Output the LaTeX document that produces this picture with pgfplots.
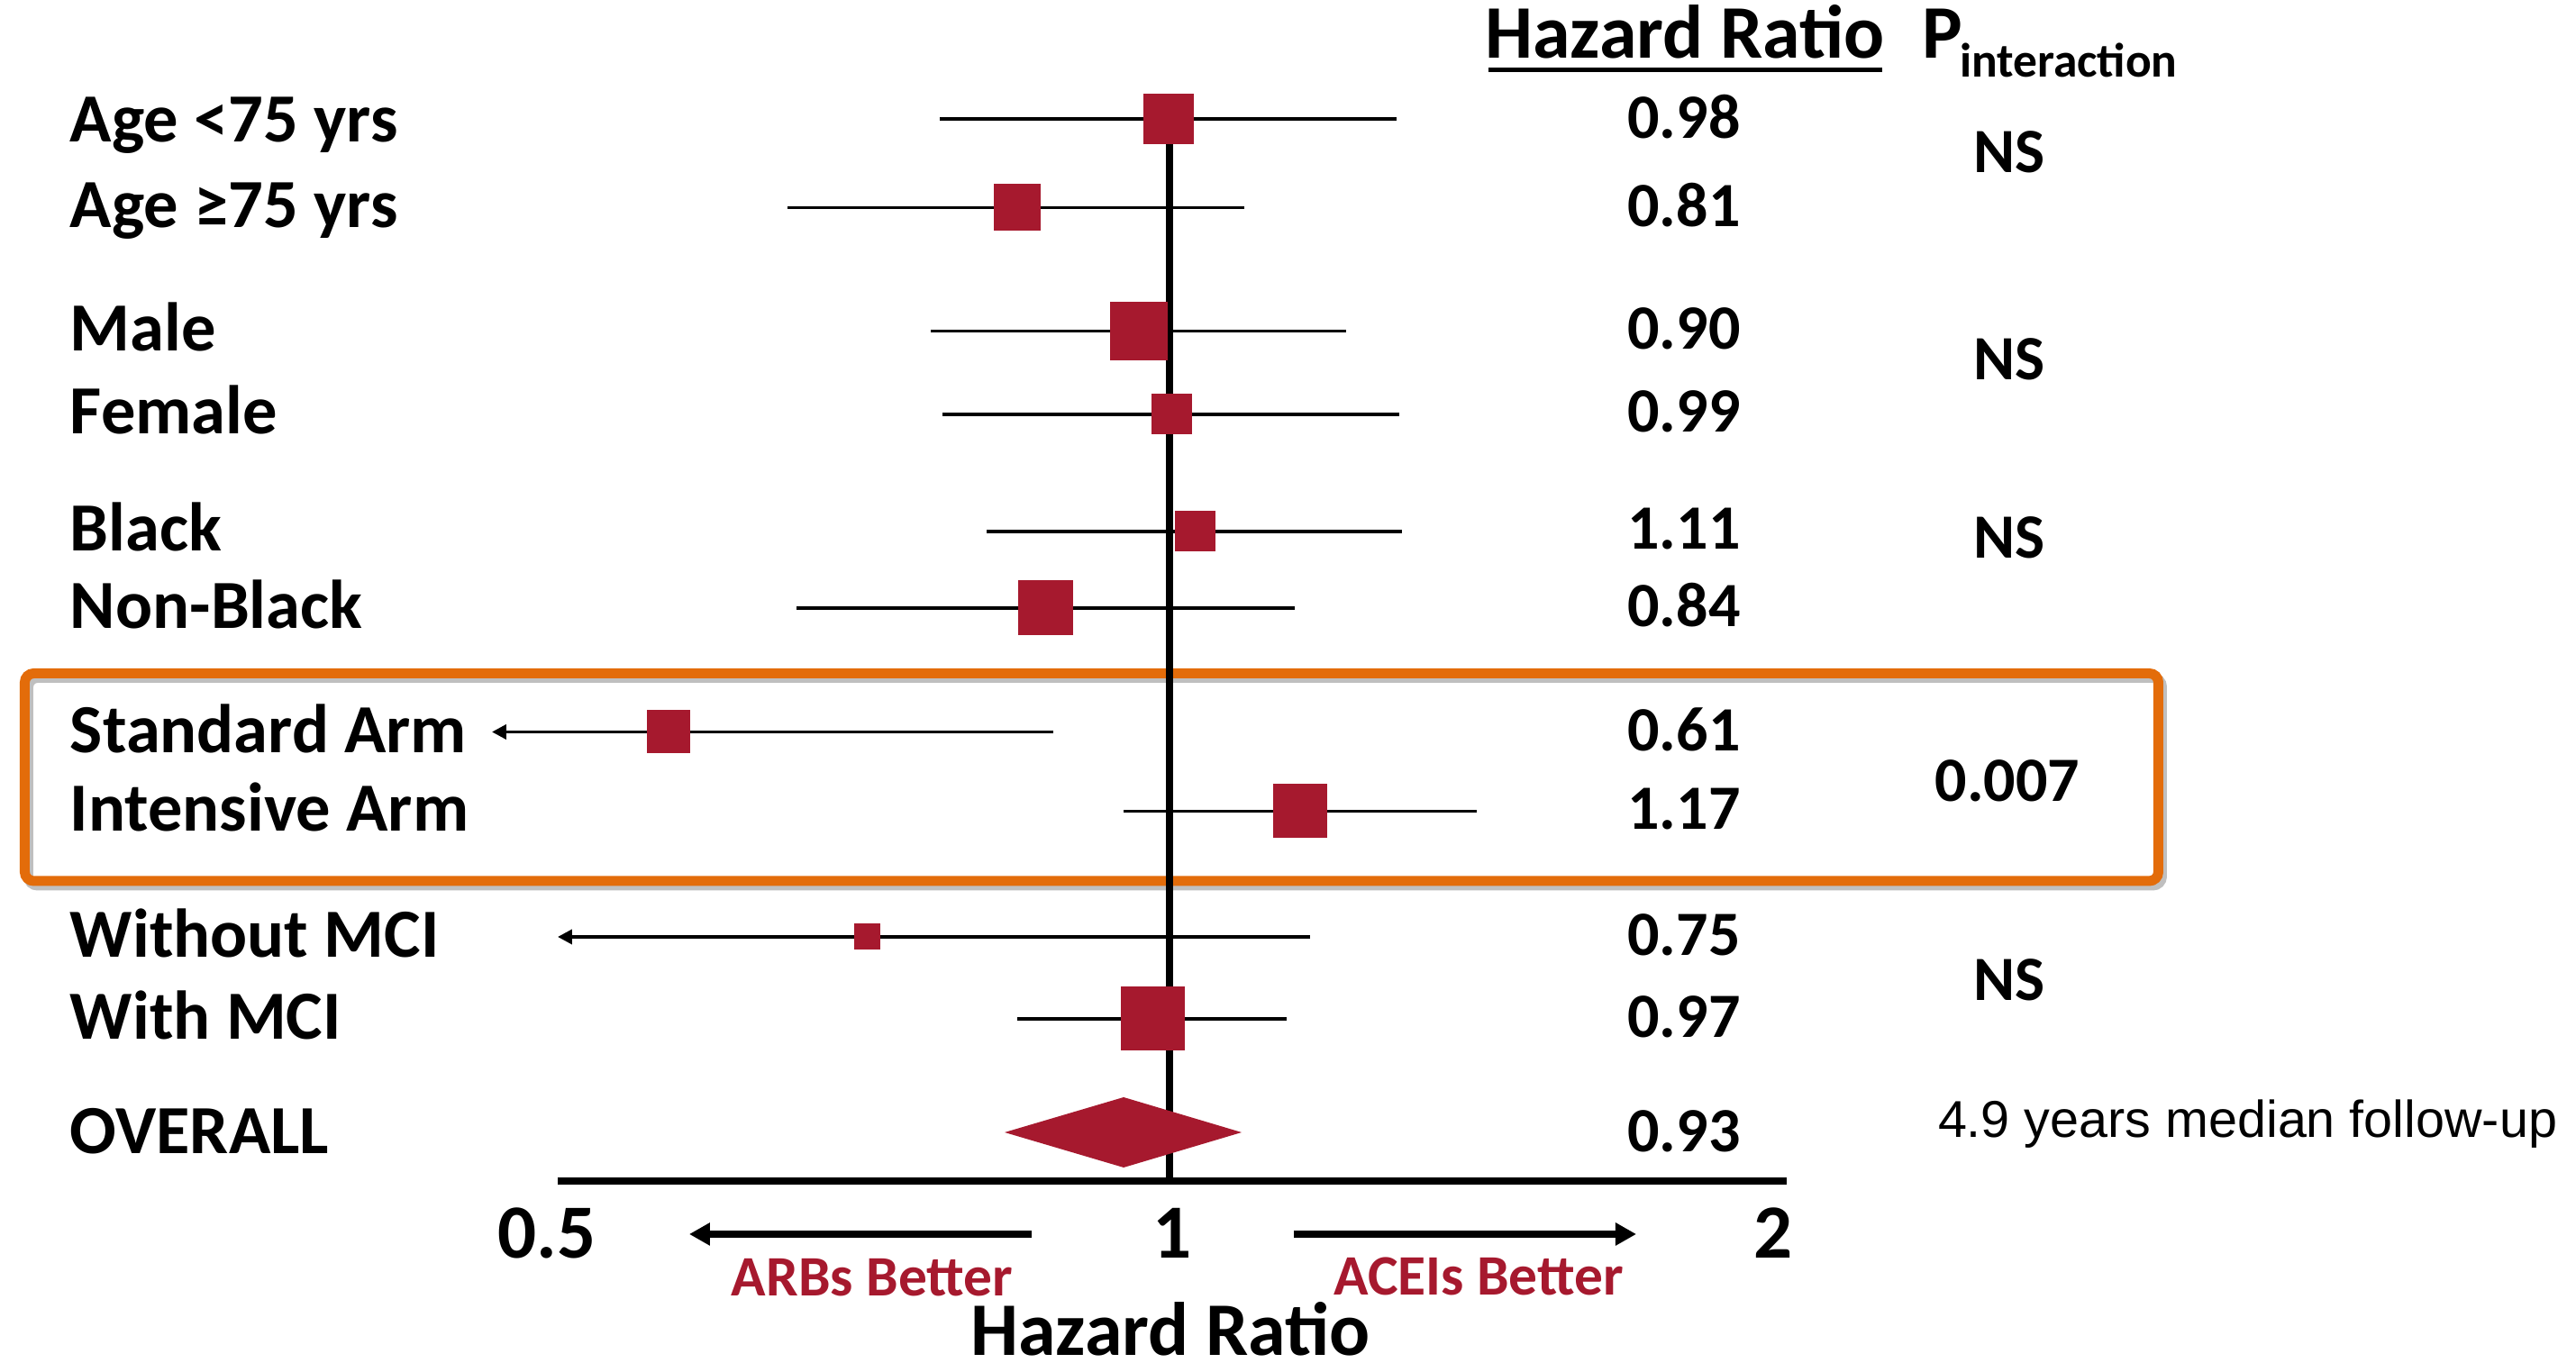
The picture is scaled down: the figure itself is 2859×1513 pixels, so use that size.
\documentclass[border=0pt]{standalone}
\usepackage{fontspec}
\setmainfont{Carlito}
\newfontfamily\arialfont{Liberation Sans}
\usepackage{pgfplots}
\pgfplotsset{compat=1.18}
\usetikzlibrary{arrows.meta}
\definecolor{boxred}{HTML}{A6192E}
\definecolor{orng}{HTML}{E36C0A}
\newcommand\lab{\fontsize{15.3}{16}\selectfont\bfseries}
\newcommand\num{\fontsize{14}{14}\selectfont\bfseries}
\newcommand\head{\fontsize{16.8}{17}\selectfont\bfseries}
\begin{document}
\begin{tikzpicture}
\begin{scope}[x=0.2pt,y=-0.2pt,shift={(-123.8pt,262.2pt)}]
\path[use as bounding box] (0,0) rectangle (2859,1513);
% orange highlight box with shadow
\draw[black!25, line width=2.2pt, rounded corners=2pt] (31.5,752.5) rectangle (2399.5,983);
\draw[orng, line width=2.2pt, rounded corners=2pt] (27.5,747.5) rectangle (2395.5,978);
\end{scope}
\begin{axis}[
  at={(0,0)}, anchor=south west,
  scale only axis, width=271.6pt, height=262.2pt,
  xmode=log, log basis x=2,
  xmin=0.5, xmax=2, ymin=-1311, ymax=0,
  clip=false,
  axis x line*=bottom, axis y line=none,
  x axis line style={line width=1.6pt, shorten >=-1.2pt},
  xtick={0.5,1,2}, xticklabels={\kern-4.8pt 0.5,\kern1.2pt 1,\kern-3.6pt 2},
  xminorticks=false, minor xtick={},
  major tick length=0pt,
  xticklabel style={font=\fontsize{17}{17}\selectfont\bfseries, anchor=base, yshift=-17.2pt, inner sep=0pt},
  ytick=\empty,
]
% reference line at HR = 1
\addplot[black, line width=1.6pt] coordinates {(1,-1311) (1,-110)};
% confidence intervals
\addplot[black, line width=0.75pt] coordinates {(0.7708,-132) (1.2933,-132)};
\addplot[black, line width=0.75pt] coordinates {(0.6487,-230.5) (1.0884,-230.5)};
\addplot[black, line width=0.75pt] coordinates {(0.7630,-367.5) (1.2215,-367.5)};
\addplot[black, line width=0.75pt] coordinates {(0.7732,-460) (1.2973,-460)};
\addplot[black, line width=0.75pt] coordinates {(0.8129,-590) (1.3013,-590)};
\addplot[black, line width=0.75pt] coordinates {(0.6553,-675) (1.1525,-675)};
\addplot[black, line width=0.75pt, {Triangle[length=3.2pt,width=3.2pt]}-] coordinates {(0.4641,-812.5) (0.8766,-812.5)};
\addplot[black, line width=0.75pt] coordinates {(0.9493,-900.5) (1.4164,-900.5)};
\addplot[black, line width=0.75pt, {Triangle[length=3.2pt,width=3.2pt]}-] coordinates {(0.5,-1040) (1.1726,-1040)};
\addplot[black, line width=0.75pt] coordinates {(0.8416,-1131) (1.1419,-1131)};
% point estimates (box side in px * 0.1 = mark size in pt)
\addplot[scatter, only marks, mark=square*,
  scatter/use mapped color={draw=boxred, fill=boxred},
  mark options={line width=0pt},
  visualization depends on={\thisrow{s} \as \msize},
  scatter/@pre marker code/.append style={/tikz/mark size=\msize}]
  table {
x y s
0.999 -132 5.5
0.8416 -230.5 5.1
0.9659 -367.5 6.35
1.002 -460 4.4
1.029 -590 4.4
0.8686 -675 6.0
0.5669 -812.5 4.7
1.1595 -900.5 5.9
0.7103 -1040 2.8
0.9808 -1131 7.0
};
% overall diamond
\addplot[fill=boxred, draw=none] coordinates {(0.8296,-1257) (0.9493,-1218) (1.0851,-1257) (0.9493,-1296) (0.8296,-1257)};
\end{axis}
\begin{scope}[x=0.2pt,y=-0.2pt,shift={(-123.8pt,262.2pt)}, every node/.style={inner sep=0pt}]
% row labels
\node[anchor=base west] at (77,157.5) {\lab Age <75 yrs};
\node[anchor=base west] at (77,253) {\lab Age ≥75 yrs};
\node[anchor=base west] at (77,390) {\lab Male};
\node[anchor=base west] at (77,482) {\lab Female};
\node[anchor=base west] at (77,612) {\lab Black};
\node[anchor=base west] at (77,698) {\lab Non-Black};
\node[anchor=base west] at (77,836) {\lab Standard Arm};
\node[anchor=base west] at (77,923) {\lab Intensive Arm};
\node[anchor=base west] at (77,1063) {\lab Without MCI};
\node[anchor=base west] at (77,1154) {\lab With MCI};
\node[anchor=base west] at (77,1281) {\lab OVERALL};
% hazard ratio column
\node[anchor=base] at (1870,65) {\head Hazard Ratio};
\draw[black, line width=1pt] (1652,77.6) -- (2089,77.6);
\node[anchor=base west] at (2133,65) {\head P};
\node[anchor=base west] at (2174,86) {\fontsize{10.7}{11}\selectfont\bfseries interaction};
\node[anchor=base] at (1869,154) {\num 0.98};
\node[anchor=base] at (1869,252) {\num 0.81};
\node[anchor=base] at (1869,388) {\num 0.90};
\node[anchor=base] at (1869,480) {\num 0.99};
\node[anchor=base] at (1869,610) {\num 1.11};
\node[anchor=base] at (1869,696) {\num 0.84};
\node[anchor=base] at (1869,834) {\num 0.61};
\node[anchor=base] at (1869,921) {\num 1.17};
\node[anchor=base] at (1869,1060.5) {\num 0.75};
\node[anchor=base] at (1869,1152) {\num 0.97};
\node[anchor=base] at (1869,1278.5) {\num 0.93};
% interaction p values
\node[anchor=base] at (2230,191.5) {\num NS};
\node[anchor=base] at (2230,421.7) {\num NS};
\node[anchor=base] at (2230,619.5) {\num NS};
\node[anchor=base] at (2228,890) {\num 0.007};
\node[anchor=base] at (2230,1111) {\num NS};
\node[anchor=base west] at (2150,1263) {\arialfont\fontsize{11.5}{12}\selectfont 4.9 years median follow-up};
% direction arrows and labels
\draw[line width=1.6pt, -{Triangle[length=4.6pt,width=4.8pt]}] (1145,1370) -- (765,1370);
\draw[line width=1.6pt, -{Triangle[length=4.6pt,width=4.8pt]}] (1436,1370) -- (1816,1370);
\node[anchor=base, text=boxred] at (968,1439) {\fontsize{12.7}{13}\selectfont\bfseries ARBs Better};
\node[anchor=base, text=boxred] at (1641,1438) {\fontsize{12.7}{13}\selectfont\bfseries ACEIs Better};
\node[anchor=base] at (1299,1505) {\head Hazard Ratio};
\end{scope}
\end{tikzpicture}
\end{document}
